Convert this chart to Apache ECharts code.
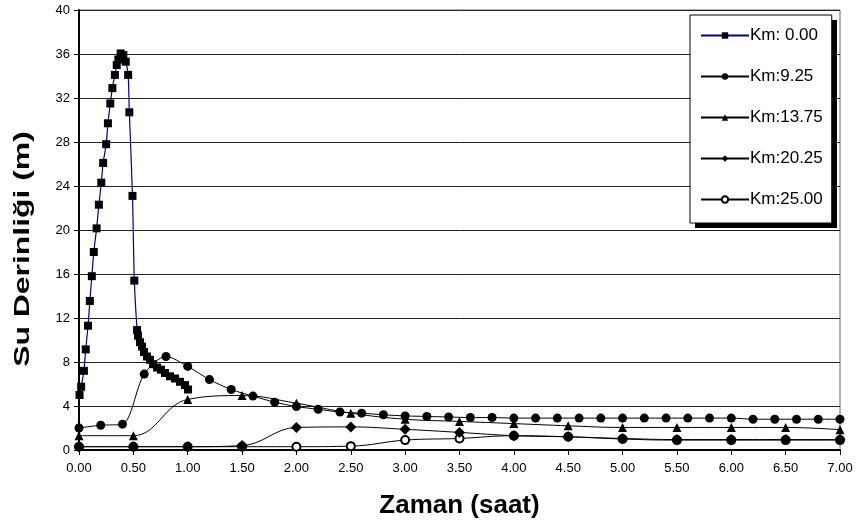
<!DOCTYPE html>
<html>
<head>
<meta charset="utf-8">
<script src="https://cdn.jsdelivr.net/npm/echarts@6/dist/echarts.min.js"></script>
<style>
  html, body { margin: 0; padding: 0; background: #fff; }
  #chart { width: 858px; height: 527px; }
</style>
</head>
<body>
<div id="chart"></div>
<script>
// Su derinligi - zaman verileri (okunan degerler)
var seriesNames = ['Km: 0.00', 'Km:9.25', 'Km:13.75', 'Km:20.25', 'Km:25.00'];

var time0 = [0.005, 0.02, 0.045, 0.062, 0.083, 0.1, 0.118, 0.136, 0.162, 0.183, 0.205, 0.222,
  0.25, 0.266, 0.288, 0.307, 0.33, 0.347, 0.362, 0.383, 0.408, 0.43, 0.452, 0.463, 0.492,
  0.509, 0.534, 0.543, 0.561, 0.58, 0.598, 0.626, 0.653, 0.681, 0.718, 0.754, 0.791, 0.837,
  0.883, 0.929, 0.975, 1.003];
var depth0 = [5.0, 5.75, 7.2, 9.15, 11.3, 13.55, 15.8, 18.0, 20.15, 22.3, 24.3, 26.1,
  27.8, 29.7, 31.5, 32.9, 34.1, 35.0, 35.5, 36.05, 35.9, 35.3, 34.1, 30.7, 23.1,
  15.4, 10.9, 10.4, 9.8, 9.4, 8.9, 8.5, 8.2, 7.8, 7.5, 7.3, 7.0, 6.7,
  6.5, 6.2, 5.9, 5.5];

var time925 = [0, 0.2, 0.4, 0.6, 0.8, 1.0, 1.2, 1.4, 1.6, 1.8, 2.0, 2.2, 2.4, 2.6, 2.8, 3.0,
  3.2, 3.4, 3.6, 3.8, 4.0, 4.2, 4.4, 4.6, 4.8, 5.0, 5.2, 5.4, 5.6, 5.8, 6.0, 6.2, 6.4, 6.6,
  6.8, 7.0];
var depth925 = [2.0, 2.25, 2.35, 6.9, 8.5, 7.6, 6.4, 5.5, 4.9, 4.35, 3.95, 3.7, 3.45, 3.35, 3.2, 3.1,
  3.05, 3.0, 2.95, 2.95, 2.9, 2.9, 2.9, 2.9, 2.9, 2.9, 2.9, 2.9, 2.9, 2.9, 2.9, 2.8, 2.8, 2.8,
  2.8, 2.8];

var timeHalf = [0, 0.5, 1.0, 1.5, 2.0, 2.5, 3.0, 3.5, 4.0, 4.5, 5.0, 5.5, 6.0, 6.5, 7.0];
var depth1375 = [1.3, 1.3, 4.6, 4.95, 4.25, 3.35, 2.8, 2.6, 2.4, 2.2, 2.05, 2.05, 2.05, 2.05, 1.85];
var depth2025 = [0.3, 0.3, 0.3, 0.4, 2.05, 2.1, 1.88, 1.6, 1.3, 1.2, 1.05, 0.95, 0.95, 0.95, 0.95];
var depth2500 = [0.3, 0.3, 0.3, 0.3, 0.3, 0.35, 0.9, 1.05, 1.3, 1.2, 1.0, 0.9, 0.9, 0.9, 0.9];

function pairs(xs, ys) {
  var out = [];
  for (var i = 0; i < xs.length; i++) out.push([xs[i], ys[i]]);
  return out;
}

var chart = echarts.init(document.getElementById('chart'));
var font = 'Liberation Sans, Arial, sans-serif';

function lineSeries(name, data, symbol, size, smooth, z) {
  return {
    name: name, type: 'line', smooth: smooth,
    data: data,
    symbol: symbol, symbolSize: size,
    lineStyle: { color: '#000', width: 1 },
    itemStyle: { color: '#000' },
    z: z
  };
}

var option = {
  animation: false,
  backgroundColor: '#fff',
  textStyle: { fontFamily: font },
  grid: {
    left: 79, right: 18, top: 10, bottom: 77,
    show: true, borderColor: '#666', borderWidth: 1
  },
  legend: {
    orient: 'vertical',
    left: 690, top: 15,
    padding: [12, 9, 15, 10],
    itemWidth: 48, itemHeight: 8,
    itemGap: 24,
    backgroundColor: '#fff',
    borderColor: '#000', borderWidth: 1,
    textStyle: { fontFamily: font, fontSize: 17, color: '#000', padding: [0, 0, 0, -4] },
    data: seriesNames
  },
  xAxis: {
    type: 'value', min: 0, max: 7, interval: 0.5,
    name: 'Zaman (saat)', nameLocation: 'middle', nameGap: 43,
    nameTextStyle: { fontFamily: font, fontSize: 26, fontWeight: 'bold', color: '#000' },
    axisLine: { lineStyle: { color: '#000', width: 2 } },
    axisTick: { show: true, length: 5, lineStyle: { color: '#000' } },
    axisLabel: { fontFamily: font, fontSize: 13, color: '#000', margin: 12,
      formatter: function (v) { return v.toFixed(2); } },
    splitLine: { show: false }
  },
  yAxis: {
    type: 'value', min: 0, max: 40, interval: 4,
    axisLine: { show: true, lineStyle: { color: '#000', width: 2 } },
    axisTick: { show: true, length: 5, lineStyle: { color: '#000' } },
    axisLabel: { fontFamily: font, fontSize: 13, color: '#000', margin: 9 },
    splitLine: { show: true, lineStyle: { color: '#222', width: 1 } }
  },
  graphic: [
    // eksen basligi: orijinalde yazi dikeyde uzatilmis
    {
      type: 'text',
      x: 23, y: 249,
      rotation: Math.PI / 2,
      scaleX: 1.45,
      style: {
        text: 'Su Derinliği (m)',
        font: 'bold 22px ' + font,
        fill: '#000',
        align: 'center',
        verticalAlign: 'middle'
      }
    },
    // lejant golgesi
    {
      type: 'rect',
      z: 3,
      shape: { x: 695, y: 20, width: 142, height: 208 },
      style: { fill: '#000' }
    }
  ],
  series: [
    lineSeries(seriesNames[1], pairs(time925, depth925), 'circle', 9, 0.3, 3),
    lineSeries(seriesNames[2], pairs(timeHalf, depth1375), 'triangle', 9, 0.4, 3),
    lineSeries(seriesNames[4], pairs(timeHalf, depth2500), 'emptyCircle', 8, 0.4, 2),
    lineSeries(seriesNames[3], pairs(timeHalf, depth2025), 'diamond', 11, 0.4, 3),
    {
      name: seriesNames[0], type: 'line', smooth: 0.3,
      data: pairs(time0, depth0),
      symbol: 'rect', symbolSize: 8,
      lineStyle: { color: '#000080', width: 1.2 },
      itemStyle: { color: '#000' }, z: 4
    }
  ]
};

chart.setOption(option);
</script>
</body>
</html>
